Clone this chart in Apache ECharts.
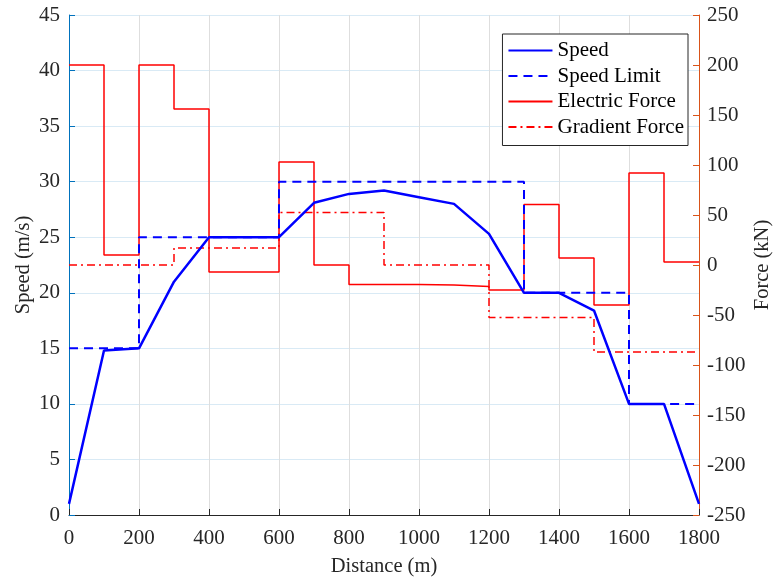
<!DOCTYPE html>
<html>
<head>
<meta charset="utf-8">
<script src="https://cdn.jsdelivr.net/npm/echarts@6/dist/echarts.min.js"></script>
<style>html,body{margin:0;padding:0;background:#fff}#c{width:773px;height:583px}</style>
</head>
<body>
<div id="c"></div>
<script>
// Speed (m/s) vs distance (m)
const speedX = [0,100,200,300,400,600,700,800,900,1000,1100,1200,1300,1400,1500,1600,1700,1800];
const speedV = [1,14.8,15,21,25,25,28.1,28.9,29.2,28.6,28,25.3,20,20,18.4,10,10,1];
// Speed limit (step, value holds from each x to the next)
const limitX = [0,200,600,1300,1600,1800];
const limitV = [15,25,30,20,10,10];
// Electric force (kN), step
const elecX = [0,100,200,300,400,600,700,800,1000,1100,1200,1300,1400,1500,1600,1700,1800];
const elecF = [200,10,200,156,-7,103,0,-19.5,-20,-21.5,-25,60.5,7,-40,92,3,3];
// Gradient force (kN), step
const gradX = [0,300,600,900,1200,1500,1800];
const gradF = [0,17,52.5,0,-52.5,-87,-87];

const FONT = "'Liberation Serif','Times New Roman',serif";
const TXT = '#262626';
const pair = (xs, ys) => xs.map((x, i) => [x, ys[i]]);
const plain = v => String(v);

const chart = echarts.init(document.getElementById('c'), null, {renderer: 'canvas'});
chart.setOption({
  animation: false,
  backgroundColor: '#fff',
  textStyle: {fontFamily: FONT},
  grid: {left: 69, right: 74, top: 15, bottom: 68, containLabel: false, outerBoundsMode: 'none'},
  legend: {
    right: 85, top: 34, orient: 'vertical',
    backgroundColor: '#fff', borderColor: '#262626', borderWidth: 1, borderRadius: 0,
    padding: [6, 4, 8, 5],
    itemWidth: 44, itemHeight: 14, itemGap: 4.5,
    textStyle: {fontFamily: FONT, fontSize: 21, color: '#000', lineHeight: 20},
    data: ['Speed', 'Speed Limit', 'Electric Force', 'Gradient Force']
  },
  xAxis: {
    type: 'value', min: 0, max: 1800, interval: 200,
    name: 'Distance (m)', nameLocation: 'middle', nameGap: 41, nameMoveOverlap: false,
    nameTextStyle: {fontFamily: FONT, fontSize: 20.5, color: TXT},
    axisLine: {onZero: false, lineStyle: {color: TXT, width: 1}},
    axisTick: {inside: true, length: 6, lineStyle: {color: TXT}},
    axisLabel: {fontFamily: FONT, fontSize: 21, color: TXT, margin: 13, formatter: plain},
    splitLine: {show: true, lineStyle: {color: '#DEDEDE', width: 1}}
  },
  yAxis: [
    {
      type: 'value', min: 0, max: 45, interval: 5, position: 'left',
      name: 'Speed (m/s)', nameLocation: 'middle', nameGap: 35, nameRotate: 90, nameMoveOverlap: false,
      nameTextStyle: {fontFamily: FONT, fontSize: 20.5, color: TXT},
      axisLine: {show: true, onZero: false, lineStyle: {color: '#0072BD', width: 1}},
      axisTick: {show: true, inside: true, length: 6, lineStyle: {color: '#0072BD'}},
      axisLabel: {fontFamily: FONT, fontSize: 21, color: TXT, margin: 9, formatter: plain},
      splitLine: {show: true, lineStyle: {color: '#D9EAF5', width: 1}}
    },
    {
      type: 'value', min: -250, max: 250, interval: 50, position: 'right',
      name: 'Force (kN)', nameLocation: 'middle', nameGap: 53, nameRotate: 90, nameMoveOverlap: false,
      nameTextStyle: {fontFamily: FONT, fontSize: 20.5, color: TXT},
      axisLine: {show: true, onZero: false, lineStyle: {color: '#D95319', width: 1}},
      axisTick: {show: true, inside: true, length: 6, lineStyle: {color: '#D95319'}},
      axisLabel: {fontFamily: FONT, fontSize: 21, color: TXT, margin: 8, formatter: plain},
      splitLine: {show: false}
    }
  ],
  series: [
    {
      name: 'Speed', type: 'line', yAxisIndex: 0, symbol: 'none', z: 4,
      data: pair(speedX, speedV),
      lineStyle: {color: '#0000FF', width: 2.5, type: 'solid'},
      itemStyle: {color: '#0000FF', opacity: 0}
    },
    {
      name: 'Speed Limit', type: 'line', yAxisIndex: 0, symbol: 'none', step: 'end', z: 3,
      data: pair(limitX, limitV),
      lineStyle: {color: '#0000FF', width: 2, type: [9, 6]},
      itemStyle: {color: '#0000FF', opacity: 0}
    },
    {
      name: 'Electric Force', type: 'line', yAxisIndex: 1, symbol: 'none', step: 'end', z: 2,
      data: pair(elecX, elecF),
      lineStyle: {color: '#FF0000', width: 1.5, type: 'solid'},
      itemStyle: {color: '#FF0000', opacity: 0}
    },
    {
      name: 'Gradient Force', type: 'line', yAxisIndex: 1, symbol: 'none', step: 'end', z: 2,
      data: pair(gradX, gradF),
      lineStyle: {color: '#FF0000', width: 1.5, type: [8, 4, 2, 4]},
      itemStyle: {color: '#FF0000', opacity: 0}
    }
  ]
});
</script>
</body>
</html>
